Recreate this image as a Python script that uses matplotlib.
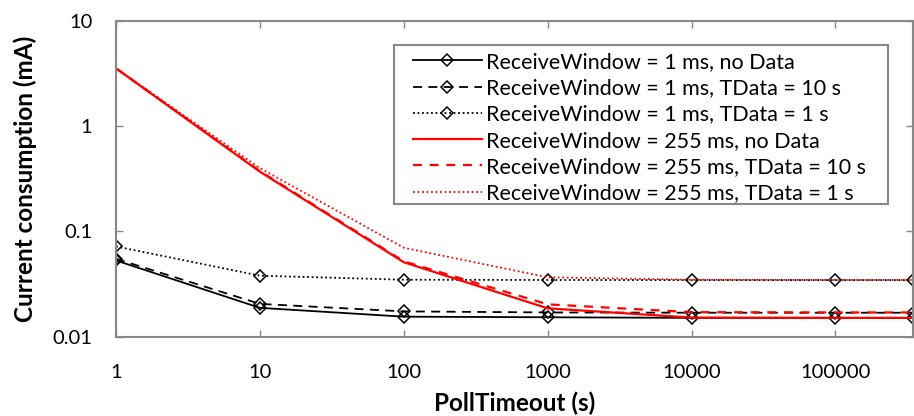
import matplotlib
matplotlib.use("Agg")
import matplotlib.pyplot as plt
from matplotlib.patches import Rectangle

plt.rcParams['font.family'] = ['Lato', 'DejaVu Sans']

poll_timeout = [1, 10, 100, 1000, 10000, 100000, 345600]

rw1_nodata = [0.053, 0.0188, 0.0155, 0.0153, 0.0151, 0.0151, 0.0151]
rw1_t10 = [0.055, 0.0205, 0.0174, 0.0170, 0.0169, 0.0169, 0.0169]
rw1_t1 = [0.072, 0.038, 0.0348, 0.0346, 0.0345, 0.0345, 0.0345]
rw255_nodata = [3.55, 0.37, 0.051, 0.0186, 0.0152, 0.0151, 0.0151]
rw255_t10 = [3.55, 0.375, 0.052, 0.0203, 0.0171, 0.0170, 0.0170]
rw255_t1 = [3.55, 0.40, 0.070, 0.0367, 0.0348, 0.0346, 0.0346]

labels = [
    "ReceiveWindow = 1 ms, no Data",
    "ReceiveWindow = 1 ms, TData = 10 s",
    "ReceiveWindow = 1 ms, TData = 1 s",
    "ReceiveWindow = 255 ms, no Data",
    "ReceiveWindow = 255 ms, TData = 10 s",
    "ReceiveWindow = 255 ms, TData = 1 s",
]

fig = plt.figure(figsize=(9.14, 4.16), dpi=100)
ax = fig.add_axes([116/914, 1-336.7/416, (913-116)/914, (336.7-21)/416])

mk = dict(marker='D', markersize=6.5, markerfacecolor='none', markeredgecolor='black', markeredgewidth=1.1)
ax.plot(poll_timeout, rw1_nodata, color='black', lw=1.3, ls='-', label=labels[0], **mk)
ax.plot(poll_timeout, rw1_t10, color='black', lw=1.3, ls=(0, (5, 3.5)), label=labels[1], **mk)
ax.plot(poll_timeout, rw1_t1, color='black', lw=1.3, ls=(0, (1, 1.5)), label=labels[2], **mk)
ax.plot(poll_timeout, rw255_nodata, color='#ff0000', lw=1.6, ls='-', label=labels[3])
ax.plot(poll_timeout, rw255_t10, color='#ff0000', lw=1.6, ls=(0, (4, 3.5)), label=labels[4])
ax.plot(poll_timeout, rw255_t1, color='#ff0000', lw=1.3, ls=(0, (1, 1.5)), label=labels[5])

ax.set_xscale('log')
ax.set_yscale('log')
ax.set_xlim(1, 345600)
ax.set_ylim(0.01, 10)
ax.set_xticks([1, 10, 100, 1000, 10000, 100000])
ax.set_xticklabels(['1', '10', '100', '1000', '10000', '100000'])
ax.set_yticks([0.01, 0.1, 1, 10])
ax.set_yticklabels(['0.01', '0.1', '1', '10'])
ax.minorticks_off()
ax.tick_params(axis='both', which='major', direction='in', length=5, width=1.0,
               color='#888888', labelsize=14.5, top=True, right=True, labelcolor='black')
ax.tick_params(axis='x', pad=20)
ax.tick_params(axis='y', pad=17)

for s in ax.spines.values():
    s.set_color('#888888')
    s.set_linewidth(1.5)

ax.set_xlabel('PollTimeout (s)', fontsize=17.5, fontweight='bold', labelpad=7)
ax.set_ylabel('Current consumption (mA)', fontsize=17.5, fontweight='bold', labelpad=11)

frame = Rectangle((394/914, 1-204/416), (888-394)/914, (204-45)/416, transform=fig.transFigure,
                  facecolor='white', edgecolor='#888888', linewidth=1.5, zorder=5)
fig.add_artist(frame)

leg = fig.legend(loc='upper left', bbox_to_anchor=(413/914, 1-52/416), bbox_transform=fig.transFigure,
                 borderaxespad=0, borderpad=0, fontsize=15.5, frameon=False,
                 handlelength=3.2, handletextpad=0.2, labelspacing=0.29, numpoints=1)
leg.set_zorder(6)

fig.savefig('out.png', dpi=100)
